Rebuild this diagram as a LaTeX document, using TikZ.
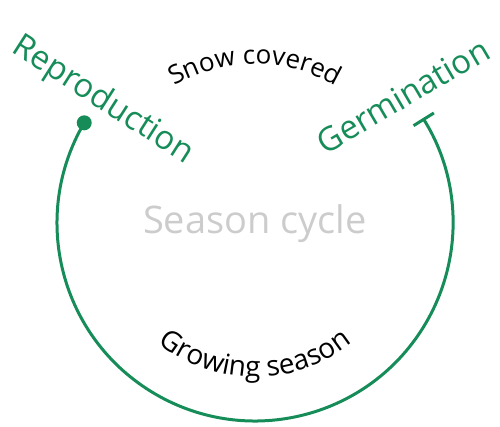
\documentclass[tikz,border=0pt]{standalone}
\usepackage{fontspec}
\setmainfont{Open Sans}
\usetikzlibrary{arrows.meta,decorations.text,calc}
\definecolor{cyclegreen}{RGB}{22,140,88}
\definecolor{titlegray}{RGB}{204,204,204}
\begin{document}
\begin{tikzpicture}[x=1pt,y=1pt,
  stagelabel/.style={text=cyclegreen, font=\fontsize{33}{40}\selectfont, inner sep=0pt, anchor=base},
  cycleline/.style={draw=cyclegreen, line width=3pt},
  enddot/.style={circle, fill=cyclegreen, minimum size=15pt, inner sep=0pt},
  arclabel/.style 2 args={decorate, decoration={text along path, text align=center, text={|\fontsize{#1}{#1}\selectfont|#2}}}]
\useasboundingbox (0,0) rectangle (500,426);
% centre of the cycle
\coordinate (c) at (255,203);
\coordinate (rep) at ($(c)+(149.6:198)$);
% the cycle itself, ending in a bar at germination
\draw[cycleline, -{Bar[width=24pt]}] (rep) arc[start angle=149.6, end angle=392, radius=198] coordinate (ger);
\node[enddot] (dot) at (rep) {};
% stage names
\node[stagelabel, rotate=-32.6] (reproduction) at (98,318) {Reproduction};
\node[stagelabel, rotate=30.5] (germination) at (409,320) {Germination};
% title
\node[text=titlegray, font=\fontsize{38}{46}\selectfont, inner sep=0pt, anchor=base] (title) at (255,193) {Season cycle};
% season names on arcs
\path[arclabel={26}{Snow covered}] ($(c)+(130:159)$) arc[start angle=130, end angle=50, radius=159];
\path[arclabel={28}{Growing season}] ($(c)+(220:154)$) arc[start angle=220, end angle=320, radius=154];
\end{tikzpicture}
\end{document}
